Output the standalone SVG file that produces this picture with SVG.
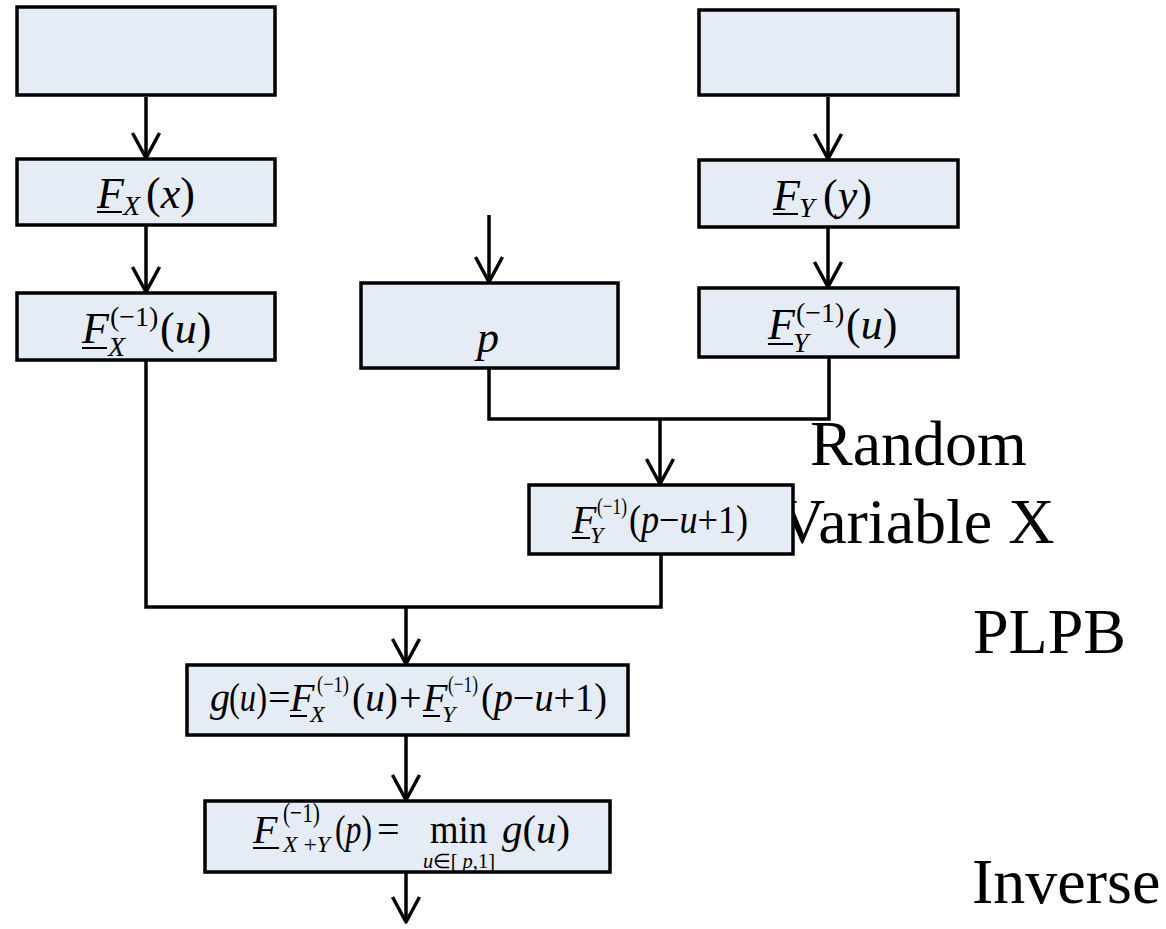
<svg xmlns="http://www.w3.org/2000/svg" width="1166" height="929" viewBox="0 0 1166 929">
<style>
.box{fill:#E5ECF6;stroke:#000;stroke-width:3.5}
.conn{fill:none;stroke:#000;stroke-width:3.5}
.ul{stroke:#000;stroke-width:2}
.m{font-family:"Liberation Serif","Times New Roman",serif;font-size:44px;fill:#000}
.m40{font-family:"Liberation Serif","Times New Roman",serif;font-size:40px;fill:#000}
.s{font-family:"Liberation Serif","Times New Roman",serif;font-size:28px;fill:#000}
.s24{font-family:"Liberation Serif","Times New Roman",serif;font-size:24px;fill:#000}
.s20{font-family:"Liberation Serif","Times New Roman",serif;font-size:20px;fill:#000}
.i{font-style:italic}
.lbl{font-family:"Liberation Serif","Times New Roman",serif;font-size:64px;fill:#000}
</style>
<defs>
<marker id="arr" viewBox="0 0 32 32" refX="28" refY="16" markerWidth="32" markerHeight="32" markerUnits="userSpaceOnUse" orient="auto">
<path d="M3,2.5 L28,16 L3,29.5" fill="none" stroke="#000" stroke-width="3.5" stroke-linejoin="round"/>
</marker>
</defs>

<g id="labels">
<text class="lbl" x="810" y="465">Random</text>
<text class="lbl" x="779" y="543">Variable X</text>
<text class="lbl" x="973" y="653">PLPB</text>
<text class="lbl" x="972" y="903">Inverse</text>
</g>

<g id="connectors">
<line class="conn" x1="146" y1="97" x2="146" y2="158" marker-end="url(#arr)"/>
<line class="conn" x1="828" y1="97" x2="828" y2="159" marker-end="url(#arr)"/>
<line class="conn" x1="146" y1="225" x2="146" y2="292" marker-end="url(#arr)"/>
<line class="conn" x1="828" y1="227" x2="828" y2="287" marker-end="url(#arr)"/>
<line class="conn" x1="489" y1="215" x2="489" y2="282" marker-end="url(#arr)"/>
<path class="conn" d="M489,368 V419 H829 V357"/>
<line class="conn" x1="660" y1="419" x2="660" y2="484" marker-end="url(#arr)"/>
<path class="conn" d="M146,360 V607 H661 V554"/>
<line class="conn" x1="406" y1="607" x2="406" y2="664" marker-end="url(#arr)"/>
<line class="conn" x1="406" y1="735" x2="406" y2="800" marker-end="url(#arr)"/>
<line class="conn" x1="406" y1="872" x2="406" y2="922" marker-end="url(#arr)"/>
</g>

<g id="node-top-left">
<rect class="box" x="17" y="7" width="258" height="88"/>
</g>
<g id="node-top-right">
<rect class="box" x="699" y="10" width="259" height="85"/>
</g>

<g id="node-FX">
<rect class="box" x="17" y="159" width="258" height="66"/>
<text class="m i" x="97" y="208">F</text>
<line class="ul" x1="97" y1="212" x2="122" y2="212"/>
<text class="s i" x="123" y="215">X</text>
<text class="m" x="146" y="208">(<tspan class="i">x</tspan>)</text>
</g>

<g id="node-FY">
<rect class="box" x="699" y="160" width="259" height="67"/>
<text class="m i" x="773" y="210">F</text>
<line class="ul" x1="773" y1="214" x2="798" y2="214"/>
<text class="s i" x="799" y="217">Y</text>
<text class="m" x="823" y="210">(<tspan class="i">y</tspan>)</text>
</g>

<g id="node-FXinv">
<rect class="box" x="17" y="293" width="258" height="67"/>
<text class="m i" x="82" y="343">F</text>
<line class="ul" x1="82" y1="348" x2="107" y2="348"/>
<text class="s i" x="108" y="356">X</text>
<text class="s" x="110" y="326">(−1)</text>
<text class="m" x="160" y="343">(<tspan class="i">u</tspan>)</text>
</g>

<g id="node-p">
<rect class="box" x="361" y="283" width="257" height="85"/>
<text class="m i" x="477" y="352">p</text>
</g>

<g id="node-FYinv">
<rect class="box" x="699" y="288" width="259" height="69"/>
<text class="m i" x="768" y="339">F</text>
<line class="ul" x1="768" y1="344" x2="793" y2="344"/>
<text class="s i" x="793" y="352">Y</text>
<text class="s" x="796" y="322">(−1)</text>
<text class="m" x="846" y="339">(<tspan class="i">u</tspan>)</text>
</g>

<g id="node-FYinv-pu">
<rect class="box" x="529" y="485" width="264" height="69"/>
<text class="m40 i" x="572" y="533">F</text>
<line class="ul" x1="572" y1="538" x2="590" y2="538"/>
<text class="s24 i" x="590" y="543">Y</text>
<text class="s24" x="597" y="514" textLength="30" lengthAdjust="spacingAndGlyphs">(−1)</text>
<text class="m40" x="629" y="533" textLength="119" lengthAdjust="spacingAndGlyphs">(<tspan class="i">p</tspan>−<tspan class="i">u</tspan>+1)</text>
</g>

<g id="node-g">
<rect class="box" x="187" y="665" width="441" height="70"/>
<text class="m40 i" x="210" y="711">g</text>
<text class="m40" x="229" y="711" textLength="38" lengthAdjust="spacingAndGlyphs">(<tspan class="i">u</tspan>)</text>
<text class="m40" x="268" y="711">=</text>
<text class="m40 i" x="290" y="711">F</text>
<line class="ul" x1="290" y1="716" x2="307" y2="716"/>
<text class="s24" x="317" y="692" textLength="32" lengthAdjust="spacingAndGlyphs">(−1)</text>
<text class="s24 i" x="310" y="722">X</text>
<text class="m40" x="352" y="711" textLength="46" lengthAdjust="spacingAndGlyphs">(<tspan class="i">u</tspan>)</text>
<text class="m40" x="399" y="711">+</text>
<text class="m40 i" x="423" y="711">F</text>
<line class="ul" x1="423" y1="716" x2="440" y2="716"/>
<text class="s24" x="448" y="692" textLength="30" lengthAdjust="spacingAndGlyphs">(−1)</text>
<text class="s24 i" x="442" y="722">Y</text>
<text class="m40" x="481" y="711" textLength="126" lengthAdjust="spacingAndGlyphs">(<tspan class="i">p</tspan>−<tspan class="i">u</tspan>+1)</text>
</g>

<g id="node-final">
<rect class="box" x="205" y="801" width="405" height="71"/>
<text class="m40 i" x="253" y="843">F</text>
<line class="ul" x1="253" y1="848" x2="279" y2="848"/>
<text class="s" x="283" y="822" textLength="37" lengthAdjust="spacingAndGlyphs">(−1)</text>
<text class="s24" x="283" y="852" textLength="47" lengthAdjust="spacingAndGlyphs"><tspan class="i">X</tspan> +<tspan class="i">Y</tspan></text>
<text class="m40" x="335" y="843" textLength="37" lengthAdjust="spacingAndGlyphs">(<tspan class="i">p</tspan>)</text>
<text class="m40" x="377" y="843">=</text>
<text class="m40" x="430" y="843" textLength="57" lengthAdjust="spacingAndGlyphs">min</text>
<text class="s20" x="423" y="868" textLength="72" lengthAdjust="spacingAndGlyphs"><tspan class="i">u</tspan>∈[ <tspan class="i">p</tspan>,1]</text>
<text class="m40" x="502" y="843" textLength="68" lengthAdjust="spacingAndGlyphs"><tspan class="i">g</tspan>(<tspan class="i">u</tspan>)</text>
</g>
</svg>
